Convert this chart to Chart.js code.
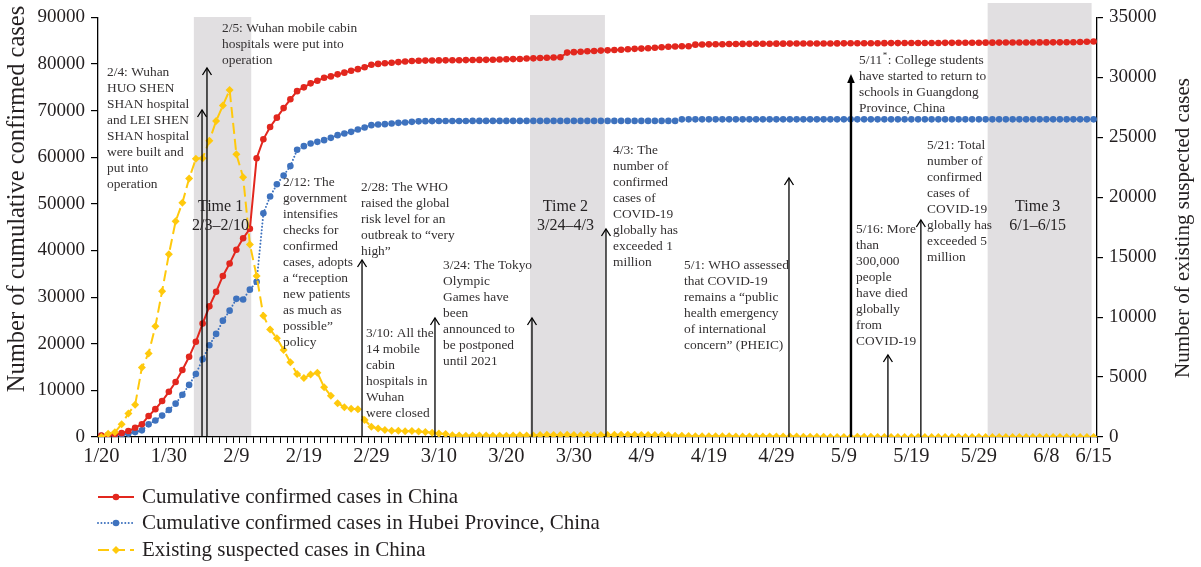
<!DOCTYPE html>
<html>
<head>
<meta charset="utf-8">
<script src="https://cdn.jsdelivr.net/npm/chart.js@4.4.1/dist/chart.umd.min.js"></script>
<style>
  html, body { margin: 0; padding: 0; background: #fff; }
  #wrap { width: 1201px; height: 567px; position: relative; }
</style>
</head>
<body>
<div id="wrap"><canvas id="c" width="1201" height="567"></canvas></div>
<script>
// ---- categories (2020 daily dates) ----
const dates = [
  '1/20','1/21','1/22','1/23','1/24','1/25','1/26','1/27','1/28','1/29','1/30','1/31',
  '2/1','2/2','2/3','2/4','2/5','2/6','2/7','2/8','2/9','2/10','2/11','2/12','2/13','2/14','2/15',
  '2/16','2/17','2/18','2/19','2/20','2/21','2/22','2/23','2/24','2/25','2/26','2/27','2/28','2/29',
  '3/1','3/2','3/3','3/4','3/5','3/6','3/7','3/8','3/9','3/10','3/11','3/12','3/13','3/14','3/15',
  '3/16','3/17','3/18','3/19','3/20','3/21','3/22','3/23','3/24','3/25','3/26','3/27','3/28','3/29','3/30','3/31',
  '4/1','4/2','4/3','4/4','4/5','4/6','4/7','4/8','4/9','4/10','4/11','4/12','4/13','4/14','4/15',
  '4/16','4/17','4/18','4/19','4/20','4/21','4/22','4/23','4/24','4/25','4/26','4/27','4/28','4/29','4/30',
  '5/1','5/2','5/3','5/4','5/5','5/6','5/7','5/8','5/9','5/10','5/11','5/12','5/13','5/14','5/15',
  '5/16','5/17','5/18','5/19','5/20','5/21','5/22','5/23','5/24','5/25','5/26','5/27','5/28','5/29','5/30','5/31',
  '6/1','6/2','6/3','6/4','6/5','6/6','6/7','6/8','6/9','6/10','6/11','6/12','6/13','6/14','6/15'
];

// ---- tick labels shown on the date axis ----
const tickLabels = ['1/20','1/30','2/9','2/19','2/29','3/10','3/20','3/30','4/9','4/19','4/29','5/9','5/19','5/29','6/8','6/15'];
const leftTicks = [0,10000,20000,30000,40000,50000,60000,70000,80000,90000];
const rightTicks = [0,5000,10000,15000,20000,25000,30000,35000];

// ---- series: cumulative confirmed cases in China ----
const chinaConfirmed = [
  291,440,571,830,1287,1975,2744,4515,5974,7711,9692,11791,
  14380,17205,20438,24324,28018,31161,34546,37198,40171,42638,44653,59804,63851,66492,68500,
  70548,72436,74185,75000,75850,76400,77050,77350,77780,78150,78550,78900,79300,79850,
  80026,80151,80270,80409,80552,80651,80695,80735,80754,80778,80793,80813,80824,80844,80860,
  80881,80894,80928,80967,81008,81054,81093,81171,81218,81285,81340,81394,81439,82447,82545,82629,
  82724,82804,82875,82930,83005,83071,83157,83249,83305,83369,83482,83597,83697,83745,83798,
  83826,84153,84184,84224,84237,84250,84287,84302,84311,84325,84338,84341,84347,84369,84373,
  84385,84388,84393,84400,84404,84407,84416,84420,84435,84447,84450,84458,84465,84469,84478,
  84484,84487,84494,84500,84507,84507,84520,84525,84536,84543,84547,84548,84565,84570,84580,84589,
  84597,84602,84608,84614,84620,84627,84634,84639,84645,84652,84659,84679,84737,84778,84821
];

// ---- series: cumulative confirmed cases in Hubei Province ----
const hubeiConfirmed = [
  270,375,444,549,729,1052,1423,2714,3554,4586,5806,7153,
  9074,11177,13522,16678,19665,22112,24953,27100,29631,29500,31600,33300,48000,51600,54200,
  56100,58100,61600,62380,62950,63310,63670,64170,64740,65110,65450,65970,66390,66890,
  67040,67100,67250,67380,67470,67600,67707,67743,67760,67773,67781,67786,67790,67794,67798,
  67799,67800,67800,67800,67800,67800,67800,67801,67801,67801,67801,67801,67801,67801,67801,67802,
  67802,67802,67803,67803,67803,67803,67803,67803,67803,67803,67803,67803,67803,67803,68128,
  68128,68128,68128,68128,68128,68128,68128,68128,68128,68128,68128,68128,68128,68128,68128,
  68128,68128,68128,68128,68128,68128,68128,68128,68128,68129,68130,68130,68130,68130,68130,
  68131,68132,68132,68132,68132,68133,68134,68134,68134,68134,68134,68134,68134,68134,68134,68134,
  68134,68134,68134,68134,68134,68134,68134,68134,68134,68134,68134,68134,68135,68135,68135
];

// ---- series: existing suspected cases in China (right axis) ----
const suspected = [
  0,270,393,1072,1965,2684,5794,6973,9239,12167,15238,17988,
  19544,21558,23214,23260,24702,26359,27657,28942,23589,21675,16067,13435,10109,8969,8228,
  7264,6242,5248,4922,5206,5365,4148,3434,2824,2491,2358,2308,1418,851,
  715,587,520,522,482,502,458,421,349,285,253,147,115,113,134,
  128,119,105,104,106,118,136,132,134,159,189,174,168,183,172,153,
  184,153,159,173,181,184,186,190,177,159,167,172,137,109,98,
  79,72,66,63,66,64,55,47,48,48,45,44,43,40,38,
  38,36,30,28,18,12,10,9,9,10,14,14,11,7,8,
  6,6,4,4,3,2,2,3,2,2,3,4,4,4,4,5,
  4,4,4,4,3,3,3,3,3,3,4,4,7,7,5
];

[chinaConfirmed, hubeiConfirmed, suspected].forEach(function (s) {
  if (s.length !== dates.length) throw new Error('series length ' + s.length + ' != ' + dates.length);
});

// ---- shaded periods ----
const periodNames = ['Time 1', 'Time 2', 'Time 3'];
const periodFrom = ['2/3', '3/24', '6/1'];
const periodTo = ['2/10', '4/3', '6/15'];

// ---- timeline events ----
const eventDates = ['2/4','2/5','2/12','2/28','3/10','3/24','4/3','5/1','5/11','5/16','5/21'];
const eventTexts = [
  ['2/4: Wuhan','HUO SHEN','SHAN hospital','and LEI SHEN','SHAN hospital','were built and','put into','operation'],
  ['2/5: Wuhan mobile cabin','hospitals were put into','operation'],
  ['2/12: The','government','intensifies','checks for','confirmed','cases, adopts','a \u201creception','new patients','as much as','possible\u201d','policy'],
  ['2/28: The WHO','raised the global','risk level for an','outbreak to \u201cvery','high\u201d'],
  ['3/10: All the','14 mobile','cabin','hospitals in','Wuhan','were closed'],
  ['3/24: The Tokyo','Olympic','Games have','been','announced to','be postponed','until 2021'],
  ['4/3: The','number of','confirmed','cases of','COVID-19','globally has','exceeded 1','million'],
  ['5/1: WHO assessed','that COVID-19','remains a \u201cpublic','health emergency','of international','concern\u201d (PHEIC)'],
  ['5/11*: College students','have started to return to','schools in Guangdong','Province, China'],
  ['5/16: More','than','300,000','people','have died','globally','from','COVID-19'],
  ['5/21: Total','number of','confirmed','cases of','COVID-19','globally has','exceeded 5','million']
];

// ---- layout / style ----
const SERIF = '"Liberation Serif", "Times New Roman", serif';
const RED = '#E2271E';
const BLUE = '#3E72BE';
const YELLOW = '#FFC90C';
const BAND = '#E1DFE1';
const INK = '#231F20';
const TEXT = '#333031';

// band edges in category units relative to the first/last date, and top y
const periodLayout = [
  { padL: -0.3, padR: 1.2, top: 17 },
  { padL: -0.5, padR: 0.6, top: 15 },
  { padL: -1.7, padR: -0.3, top: 3 }
];
// arrow nudge (px), arrow tip y (px), text anchor (left x, first line centre y)
const eventLayout = [
  { dx: -0.6, tipY: 110, tx: 107, ty: 72 },
  { dx: -2.4, tipY: 68, tx: 222, ty: 28 },
  { arrow: false, tx: 283, ty: 182 },
  { dx: -2.6, tipY: 260, tx: 361, ty: 187 },
  { dx: -3.9, tipY: 318, tx: 366, ty: 333 },
  { dx: -1.4, tipY: 318, tx: 443, ty: 265 },
  { dx: 5.1, tipY: 229, tx: 613, ty: 150 },
  { dx: -0.9, tipY: 178, tx: 684, ty: 265 },
  { dx: -6.4, tipY: 74, tx: 859, ty: 60, heavy: true },
  { dx: -3.2, tipY: 355, tx: 856, ty: 229 },
  { dx: -4.0, tipY: 220, tx: 927, ty: 145 }
];

function idx(d) { return dates.indexOf(d); }

// shaded periods behind everything
const periodPlugin = {
  id: 'periods',
  beforeDraw(chart) {
    const { ctx, chartArea, scales } = chart;
    ctx.save();
    ctx.fillStyle = '#fff';
    ctx.fillRect(0, 0, chart.width, chart.height);
    ctx.fillStyle = BAND;
    periodNames.forEach(function (name, i) {
      const L = periodLayout[i];
      const x1 = scales.x.getPixelForValue(idx(periodFrom[i]) + L.padL);
      const x2 = scales.x.getPixelForValue(idx(periodTo[i]) + L.padR);
      ctx.fillRect(x1, L.top, x2 - x1, chartArea.bottom - L.top);
    });
    ctx.restore();
  }
};

function drawLines(ctx, lines, x, y, lh) {
  lines.forEach(function (line, k) {
    const yy = y + k * lh;
    const star = line.indexOf('*');
    if (star < 0) {
      ctx.fillText(line, x, yy);
    } else {
      const a = line.slice(0, star), b = line.slice(star + 1);
      ctx.fillText(a, x, yy);
      const w = ctx.measureText(a).width;
      const f = ctx.font;
      ctx.font = '9px ' + SERIF;
      ctx.fillText('*', x + w + 0.5, yy - 4);
      const ws = ctx.measureText('*').width + 1;
      ctx.font = f;
      ctx.fillText(b, x + w + ws, yy);
    }
  });
}

// arrows, event notes and period captions
const notesPlugin = {
  id: 'notes',
  afterDatasetsDraw(chart) {
    const { ctx, chartArea, scales } = chart;
    ctx.save();
    // arrows
    eventDates.forEach(function (d, i) {
      const L = eventLayout[i];
      if (L.arrow === false) return;
      const x = scales.x.getPixelForValue(idx(d)) + L.dx;
      const y0 = chartArea.bottom;
      ctx.strokeStyle = '#000';
      ctx.fillStyle = '#000';
      if (L.heavy) {
        ctx.lineWidth = 2.4;
        ctx.beginPath();
        ctx.moveTo(x, y0);
        ctx.lineTo(x, L.tipY + 6);
        ctx.stroke();
        ctx.beginPath();
        ctx.moveTo(x, L.tipY);
        ctx.lineTo(x - 3.8, L.tipY + 9);
        ctx.lineTo(x + 3.8, L.tipY + 9);
        ctx.closePath();
        ctx.fill();
      } else {
        ctx.lineWidth = 1.3;
        ctx.beginPath();
        ctx.moveTo(x, y0);
        ctx.lineTo(x, L.tipY);
        ctx.stroke();
        ctx.beginPath();
        ctx.moveTo(x - 4.5, L.tipY + 7);
        ctx.lineTo(x, L.tipY);
        ctx.lineTo(x + 4.5, L.tipY + 7);
        ctx.stroke();
      }
    });
    // event notes
    ctx.fillStyle = TEXT;
    ctx.font = '13.4px ' + SERIF;
    ctx.textAlign = 'left';
    ctx.textBaseline = 'middle';
    eventTexts.forEach(function (lines, i) {
      const L = eventLayout[i];
      drawLines(ctx, lines, L.tx, L.ty, 16);
    });
    // period captions
    ctx.font = '16px ' + SERIF;
    ctx.textAlign = 'center';
    ctx.fillStyle = '#262324';
    periodNames.forEach(function (name, i) {
      const L = periodLayout[i];
      const x1 = scales.x.getPixelForValue(idx(periodFrom[i]) + L.padL);
      const x2 = scales.x.getPixelForValue(idx(periodTo[i]) + L.padR);
      const cx = (x1 + x2) / 2 - 2;
      ctx.fillText(name, cx, 207);
      ctx.fillText(periodFrom[i] + '\u2013' + periodTo[i], cx, 226);
    });
    ctx.restore();
  }
};

// axis titles (both reading bottom to top) and the legend below the plot
const framePlugin = {
  id: 'frame',
  afterDraw(chart) {
    const { ctx } = chart;
    ctx.save();
    ctx.fillStyle = INK;
    ctx.textAlign = 'center';
    ctx.textBaseline = 'middle';
    ctx.font = '24.5px ' + SERIF;
    ctx.translate(18, 199);
    ctx.rotate(-Math.PI / 2);
    ctx.fillText('Number of cumulative confirmed cases', 0, 0);
    ctx.restore();

    ctx.save();
    ctx.fillStyle = INK;
    ctx.textAlign = 'center';
    ctx.textBaseline = 'middle';
    ctx.font = '21px ' + SERIF;
    ctx.translate(1183, 228);
    ctx.rotate(-Math.PI / 2);
    ctx.fillText('Number of existing suspected cases', 0, 0);
    ctx.restore();

    // legend
    const rows = [497, 523, 550];
    chart.data.datasets.forEach(function (ds, i) {
      const y = rows[i];
      ctx.save();
      ctx.strokeStyle = ds.borderColor;
      ctx.lineWidth = ds.borderWidth;
      ctx.lineCap = ds.borderCapStyle || 'butt';
      ctx.setLineDash(ds.borderDash || []);
      ctx.beginPath();
      ctx.moveTo(98, y);
      ctx.lineTo(134, y);
      ctx.stroke();
      ctx.setLineDash([]);
      ctx.fillStyle = ds.borderColor;
      const cx = 116, r = ds.pointRadius;
      ctx.beginPath();
      if (ds.pointStyle === 'rectRot') {
        ctx.moveTo(cx, y - r); ctx.lineTo(cx + r, y); ctx.lineTo(cx, y + r); ctx.lineTo(cx - r, y);
        ctx.closePath();
      } else {
        ctx.arc(cx, y, r, 0, Math.PI * 2);
      }
      ctx.fill();
      ctx.fillStyle = INK;
      ctx.font = '21px ' + SERIF;
      ctx.textAlign = 'left';
      ctx.textBaseline = 'middle';
      ctx.fillText(ds.label, 142, y);
      ctx.restore();
    });
  }
};

const yTickFont = { family: SERIF, size: 19 };
const xTickFont = { family: SERIF, size: 20.5 };

new Chart(document.getElementById('c'), {
  type: 'line',
  data: {
    labels: dates,
    datasets: [
      {
        label: 'Cumulative confirmed cases in China',
        data: chinaConfirmed, yAxisID: 'y',
        borderColor: RED, backgroundColor: RED, borderWidth: 2,
        pointStyle: 'circle', pointRadius: 3.3, pointBorderWidth: 0, pointHoverRadius: 3.3,
        tension: 0, order: 1
      },
      {
        label: 'Cumulative confirmed cases in Hubei Province, China',
        data: hubeiConfirmed, yAxisID: 'y',
        borderColor: BLUE, backgroundColor: BLUE, borderWidth: 2,
        borderDash: [0.01, 3.4], borderCapStyle: 'round',
        pointStyle: 'circle', pointRadius: 3.3, pointBorderWidth: 0, pointHoverRadius: 3.3,
        tension: 0, order: 2
      },
      {
        label: 'Existing suspected cases in China',
        data: suspected, yAxisID: 'y2',
        borderColor: YELLOW, backgroundColor: YELLOW, borderWidth: 2,
        borderDash: [11, 5],
        pointStyle: 'rectRot', pointRadius: 4, pointBorderWidth: 0, pointHoverRadius: 4,
        tension: 0, order: 0
      }
    ]
  },
  options: {
    responsive: false,
    animation: false,
    events: [],
    layout: { padding: { top: 17, bottom: 100, left: 0, right: 0 } },
    plugins: { legend: { display: false }, tooltip: { enabled: false } },
    scales: {
      x: {
        type: 'category',
        offset: true,
        grid: { offset: true, drawOnChartArea: false, drawTicks: true, tickLength: 6, color: '#000', lineWidth: 1 },
        border: { display: true, color: '#000', width: 1.3 },
        ticks: {
          autoSkip: false, maxRotation: 0, minRotation: 0, padding: 1,
          color: INK, font: xTickFont,
          callback: function (v, i) { return tickLabels.indexOf(dates[i]) >= 0 ? dates[i] : ''; }
        },
        afterFit: function (s) { s.height = 30; }
      },
      y: {
        position: 'left', min: 0, max: 90000,
        afterBuildTicks: function (s) { s.ticks = leftTicks.map(function (v) { return { value: v }; }); },
        grid: { drawOnChartArea: false, drawTicks: true, tickLength: 7, color: '#000', lineWidth: 1.2 },
        border: { display: true, color: '#000', width: 1.3 },
        ticks: { padding: 6, color: INK, font: yTickFont, callback: function (v) { return String(v); } },
        afterFit: function (s) { s.width = 98; }
      },
      y2: {
        position: 'right', min: 0, max: 35000,
        afterBuildTicks: function (s) { s.ticks = rightTicks.map(function (v) { return { value: v }; }); },
        grid: { drawOnChartArea: false, drawTicks: true, tickLength: 6, color: '#000', lineWidth: 1.2 },
        border: { display: true, color: '#000', width: 1.3 },
        ticks: { padding: 6, color: INK, font: yTickFont, callback: function (v) { return String(v); } },
        afterFit: function (s) { s.width = 104; }
      }
    }
  },
  plugins: [periodPlugin, notesPlugin, framePlugin]
});
</script>
</body>
</html>
